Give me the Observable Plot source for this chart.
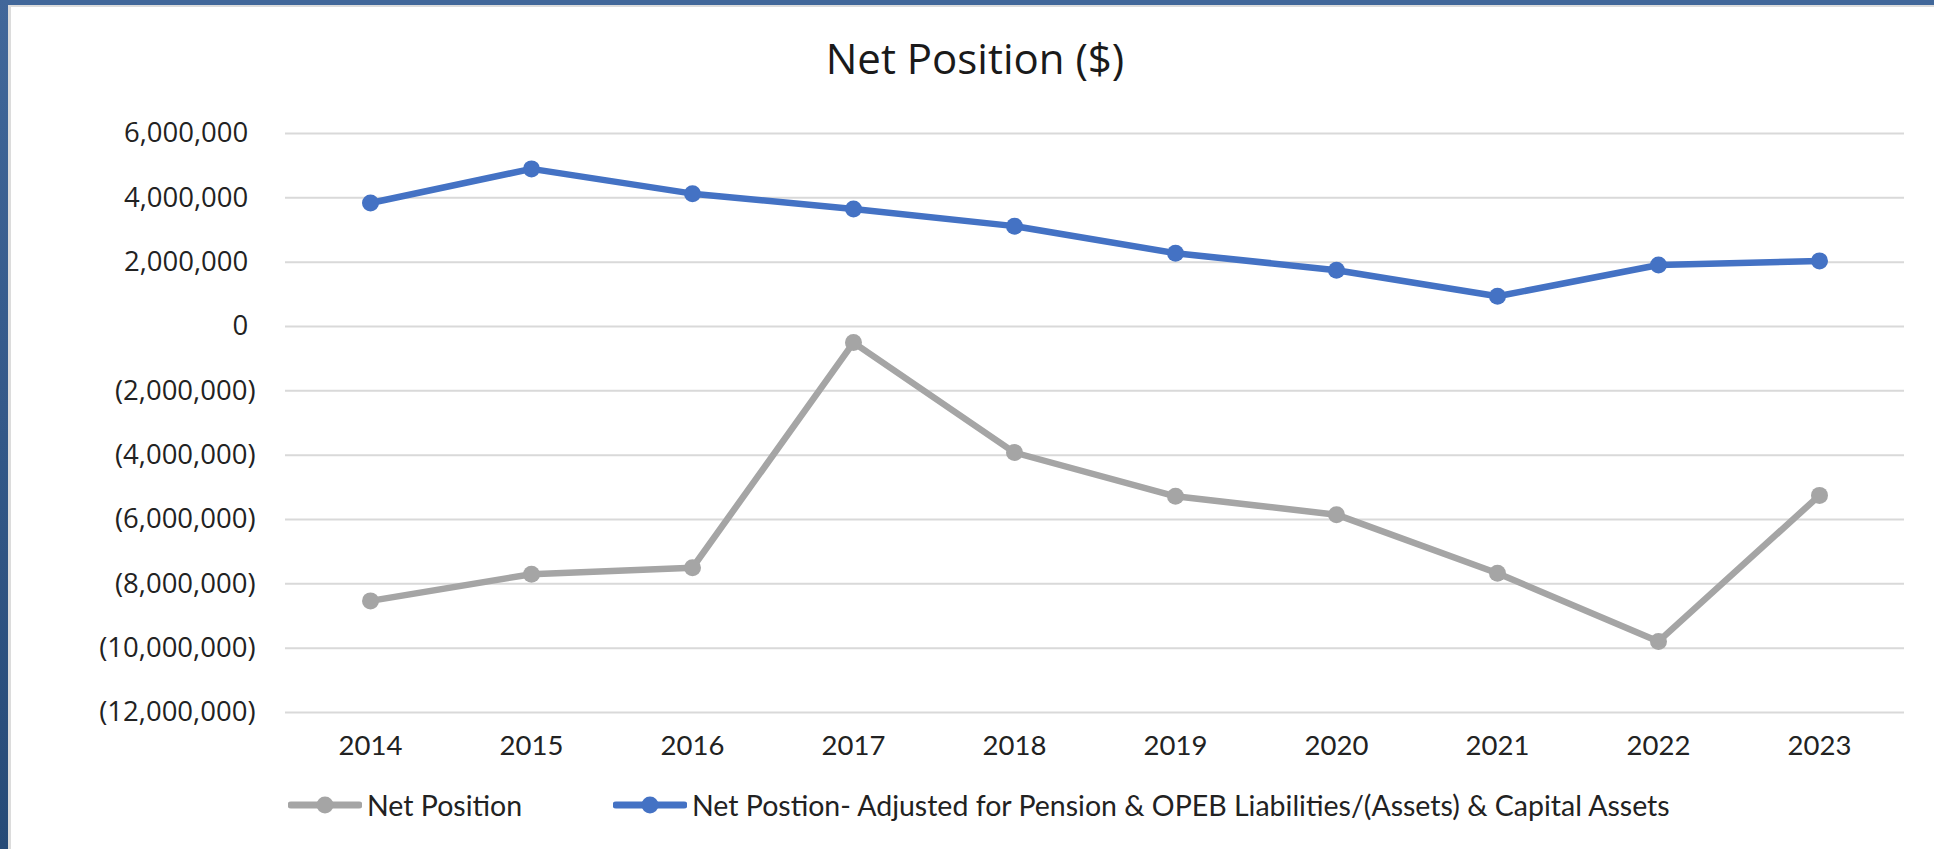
<!DOCTYPE html>
<html>
<head>
<meta charset="utf-8">
<script src="https://cdn.jsdelivr.net/npm/d3@7"></script>
<script src="https://cdn.jsdelivr.net/npm/@observablehq/plot@0.6"></script>
<style>
  html, body { margin: 0; padding: 0; background: #fff; }
  #page { position: relative; width: 1934px; height: 849px; overflow: hidden; background: #ffffff; }
  #leftbar { position: absolute; left: 0; top: 0; width: 8px; height: 849px; background: linear-gradient(#41679a, #264a77); }
  #leftgrey { position: absolute; left: 8px; top: 5px; width: 3px; height: 844px; background: #dcdcdc; }
  #topbar { position: absolute; left: 0; top: 0; width: 1934px; height: 5px; background: #41679a; }
  #topgrey { position: absolute; left: 8px; top: 5px; width: 1926px; height: 2px; background: #dcdcdc; }
  #chart { position: absolute; left: 0; top: 0; }
  #title { position: absolute; left: 0; width: 1950px; top: 37px; text-align: center; font: 42px/42px "Open Sans", sans-serif; color: #1a1a1a; }
  .leg { position: absolute; top: 791px; height: 28px; display: flex; align-items: center; font: 28.5px/28px Lato, sans-serif; color: #222; white-space: nowrap; }
  .leg svg { margin-right: 5px; }
</style>
</head>
<body>
<div id="page">
  <div id="topbar"></div>
  <div id="leftbar"></div>
  <div id="leftgrey"></div>
  <div id="topgrey"></div>
  <div id="chart"></div>
  <div id="title">Net Position ($)</div>
  <div id="legend"></div>
</div>
<script>
// ---- data ----
const years = ["2014", "2015", "2016", "2017", "2018", "2019", "2020", "2021", "2022", "2023"];
const netPosition = [-8530000, -7700000, -7500000, -500000, -3920000, -5280000, -5850000, -7670000, -9790000, -5250000];
const netPositionAdjusted = [3840000, 4900000, 4130000, 3650000, 3120000, 2280000, 1750000, 940000, 1910000, 2040000];
const yTicks = [6000000, 4000000, 2000000, 0, -2000000, -4000000, -6000000, -8000000, -10000000, -12000000];
const seriesNames = ["Net Position", "Net Postion- Adjusted for Pension & OPEB Liabilities/(Assets) & Capital Assets"];
const seriesColors = ["#a5a5a5", "#4472c4"];

const rowsNet = years.map((year, i) => ({year, value: netPosition[i]}));
const rowsAdj = years.map((year, i) => ({year, value: netPositionAdjusted[i]}));

const fmtNum = d3.format(",");
const yFormat = d => d < 0 ? `(${fmtNum(-d)})` : fmtNum(d) + "\u2008";

const chart = Plot.plot({
  width: 1934,
  height: 849,
  marginLeft: 285,
  marginRight: 30,
  marginTop: 133,
  marginBottom: 137,
  style: {background: "transparent", fontFamily: "'Open Sans', sans-serif", fontSize: "27px", color: "#222"},
  x: {type: "point", domain: years, padding: 0.5, label: null},
  y: {domain: [-12000000, 6000000], label: null},
  marks: [
    Plot.ruleY(yTicks, {stroke: "#d9d9d9", strokeWidth: 2}),
    Plot.axisY({ticks: yTicks, tickSize: 0, tickPadding: 30, tickFormat: yFormat, fontSize: 27.5, fontFamily: "'Open Sans', sans-serif", fill: "#222"}),
    Plot.axisX({tickSize: 0, tickPadding: 23, fontSize: 27.5, fontFamily: "Lato, sans-serif", fill: "#222"}),
    Plot.line(rowsNet, {x: "year", y: "value", stroke: seriesColors[0], strokeWidth: 6.5, strokeLinejoin: "round", strokeLinecap: "round"}),
    Plot.dot(rowsNet, {x: "year", y: "value", fill: seriesColors[0], r: 8.5}),
    Plot.line(rowsAdj, {x: "year", y: "value", stroke: seriesColors[1], strokeWidth: 6.5, strokeLinejoin: "round", strokeLinecap: "round"}),
    Plot.dot(rowsAdj, {x: "year", y: "value", fill: seriesColors[1], r: 8.5})
  ]
});
document.getElementById("chart").appendChild(chart);

// ---- legend ----
const legendLefts = [288, 613];
const legend = document.getElementById("legend");
seriesNames.forEach((name, i) => {
  const item = document.createElement("div");
  item.className = "leg";
  item.style.left = legendLefts[i] + "px";
  item.innerHTML = `<svg width="74" height="22"><line x1="3" y1="11" x2="71" y2="11" stroke="${seriesColors[i]}" stroke-width="7" stroke-linecap="round"/><circle cx="37" cy="11" r="8.5" fill="${seriesColors[i]}"/></svg><span>${name.replace(/&/g, "&amp;")}</span>`;
  legend.appendChild(item);
});
</script>
</body>
</html>
